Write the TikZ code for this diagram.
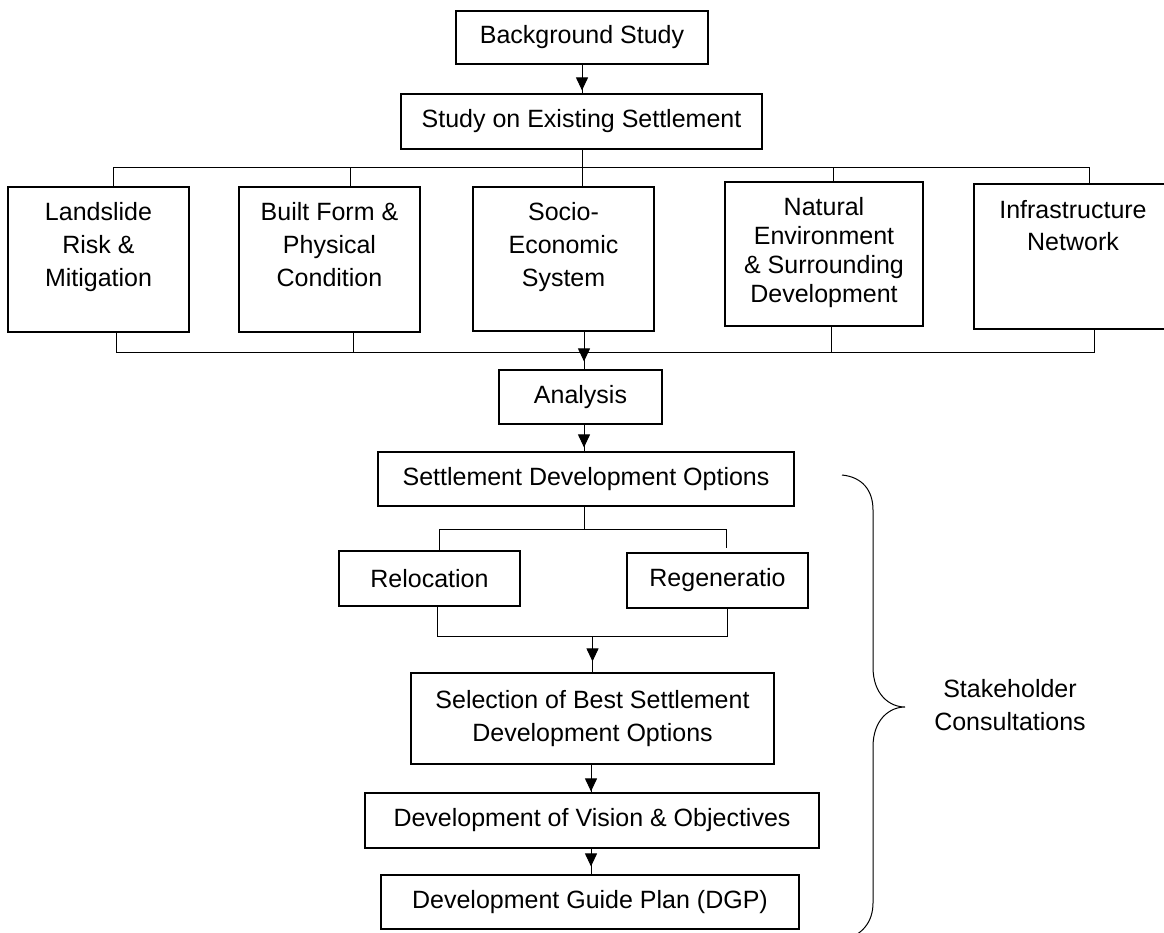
\documentclass[tikz,border=0pt]{standalone}
\usepackage{fontspec}
\setmainfont{Liberation Sans}
\usetikzlibrary{arrows.meta}
\newcommand\topbox[4]{\parbox[c][#2][t]{#1}{\centering\rule{0pt}{#3}#4}}
\begin{document}
\begin{tikzpicture}[x=1pt,y=-1pt,
  box/.style={draw, line width=1.2pt, inner sep=0pt, align=center, font=\fontsize{25}{33}\selectfont},
  tallbox/.style={draw, line width=1.2pt, inner sep=0pt},
  conn/.style={line width=1pt},
  arr/.style={line width=1pt, -{Triangle[width=12pt,length=13pt]}}]
\useasboundingbox (0,0) rectangle (1164,932);
\clip (0,0) rectangle (1164,932);
% top
\node[box, minimum width=252pt, minimum height=53pt] (bg) at (582,37.5) {Background Study};
\node[box, minimum width=361pt, minimum height=55pt] (study) at (581.5,121.5) {Study on Existing Settlement};
% five study boxes
\node[tallbox, font=\fontsize{25}{33}\selectfont] (land) at (98.5,259.5) {\topbox{181pt}{145pt}{33pt}{Landslide\\Risk \&\\Mitigation}};
\node[tallbox, font=\fontsize{25}{33}\selectfont] (built) at (329.5,259.5) {\topbox{181pt}{145pt}{33pt}{Built Form \&\\Physical\\Condition}};
\node[tallbox, font=\fontsize{25}{33}\selectfont] (socio) at (563.5,259) {\topbox{181pt}{144pt}{33pt}{Socio-\\Economic\\System}};
\node[tallbox, font=\fontsize{25}{29}\selectfont] (nat) at (824,254) {\topbox{198pt}{144pt}{33pt}{Natural\\Environment\\\& Surrounding\\Development}};
\node[tallbox, font=\fontsize{25}{32}\selectfont] (infra) at (1073,256.5) {\topbox{198pt}{145pt}{34pt}{Infrastructure\\Network}};
% lower chain
\node[box, minimum width=163pt, minimum height=54pt] (anal) at (580.5,397) {Analysis};
\node[box, minimum width=416pt, minimum height=54pt] (sdo) at (586,479) {Settlement Development Options};
\node[box, minimum width=181pt, minimum height=55pt] (reloc) at (429.5,578.5) {Relocation};
\node[box, minimum width=181pt, minimum height=55pt] (regen) at (717.5,580.5) {Regeneratio};
\node[box, minimum width=363pt, minimum height=91pt] (sel) at (592.5,718.5) {Selection of Best Settlement\\Development Options};
\node[box, minimum width=454pt, minimum height=55pt] (vis) at (592,820.5) {Development of Vision \& Objectives};
\node[box, minimum width=418pt, minimum height=54pt] (dgp) at (590,902) {Development Guide Plan (DGP)};
\node[font=\fontsize{25}{33}\selectfont, align=center] (sh) at (1010,705.5) {Stakeholder\\Consultations};
% bus coordinates
\coordinate (tb) at (0,167);
\coordinate (bb) at (0,352);
\coordinate (b2) at (0,529);
\coordinate (b3) at (0,636);
% connectors top
\draw[conn] (bg.south) -- (bg.south |- study.north);
\draw[arr, shorten >=3pt] (bg.south) -- (bg.south |- study.north);
\draw[conn] ([xshift=0.5pt]study.south) -- ([xshift=0.5pt]study.south |- socio.north);
\draw[conn] ([xshift=14.5pt]land.north) |- ([xshift=16pt]infra.north |- tb) -- ([xshift=16pt]infra.north);
\draw[conn] ([xshift=20.5pt]built.north) -- ([xshift=20.5pt]built.north |- tb);
\draw[conn] ([xshift=9pt]nat.north) -- ([xshift=9pt]nat.north |- tb);
% bottom bus
\draw[conn] ([xshift=17.5pt]land.south) |- ([xshift=21pt]infra.south |- bb) -- ([xshift=21pt]infra.south);
\draw[conn] ([xshift=23.5pt]built.south) -- ([xshift=23.5pt]built.south |- bb);
\draw[conn] ([xshift=7pt]nat.south) -- ([xshift=7pt]nat.south |- bb);
\draw[conn] ([xshift=20.5pt]socio.south) -- ([xshift=20.5pt]socio.south |- anal.north);
\draw[arr, shorten >=8pt] ([xshift=20.5pt]socio.south) -- ([xshift=20.5pt]socio.south |- anal.north);
% analysis to options
\draw[conn] ([xshift=3.5pt]anal.south) -- ([xshift=3.5pt]anal.south |- sdo.north);
\draw[arr, shorten >=4pt] ([xshift=3.5pt]anal.south) -- ([xshift=3.5pt]anal.south |- sdo.north);
\draw[conn] ([xshift=-2pt]sdo.south) -- ([xshift=-2pt]sdo.south |- b2);
\draw[conn] ([xshift=9.5pt]reloc.north) |- ([xshift=8.5pt]regen.north |- b2) -- ([xshift=8.5pt,yshift=4pt]regen.north);
\draw[conn] ([xshift=7.5pt]reloc.south) |- ([xshift=9.5pt]regen.south |- b3) -- ([xshift=9.5pt]regen.south);
\draw[conn] (sel.north |- b3) -- (sel.north);
\draw[arr, shorten >=11pt] (sel.north |- b3) -- (sel.north);
\draw[conn] ([xshift=-1.5pt]sel.south) -- ([xshift=-1.5pt]sel.south |- vis.north);
\draw[arr, shorten >=1pt] ([xshift=-1.5pt]sel.south) -- ([xshift=-1.5pt]sel.south |- vis.north);
\draw[conn] ([xshift=-1pt]vis.south) -- ([xshift=-1pt]vis.south |- dgp.north);
\draw[arr, shorten >=8pt] ([xshift=-1pt]vis.south) -- ([xshift=-1pt]vis.south |- dgp.north);
% brace
\draw[line width=1pt] (842,475) .. controls (862,477) and (873,490) .. (873,510) -- (873,667)
  .. controls (873,695) and (890,707) .. (905,707)
  .. controls (890,707) and (873,719) .. (873,747) -- (873,903)
  .. controls (873,922) and (862,936) .. (842,940);
\end{tikzpicture}
\end{document}
